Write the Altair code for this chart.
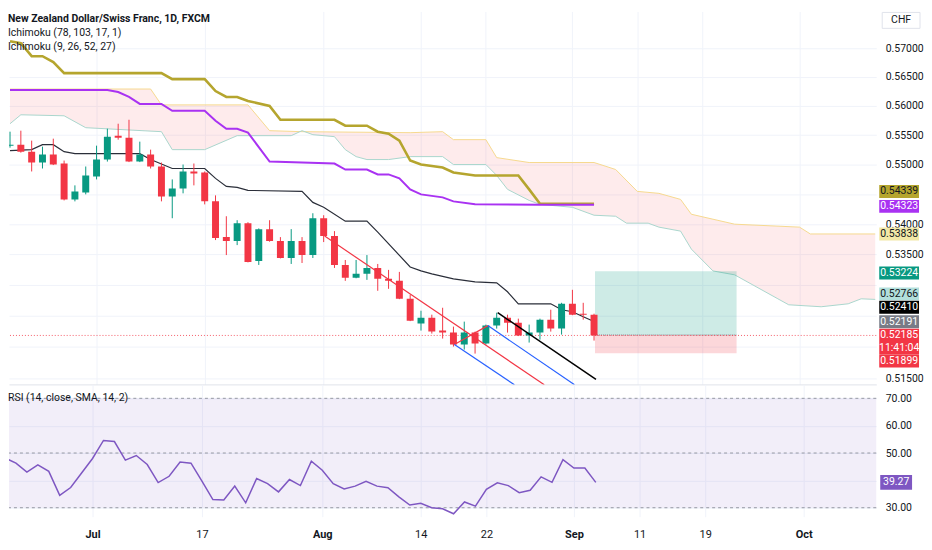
import json
import altair as alt
import pandas as pd

FONT = "Roboto, Liberation Sans, DejaVu Sans, sans-serif"
TXT = "#131722"
UP = "#089981"
DN = "#f23645"

# ---------------- data ----------------
bar_index = list(range(-8, 47))
opens = [0.55319, 0.55336, 0.55217, 0.55033, 0.55167, 0.55016, 0.54413, 0.54530, 0.54798, 0.55083,
         0.55489, 0.55455, 0.55049, 0.55167, 0.54966, 0.54463, 0.54597, 0.54882, 0.54865, 0.54380,
         0.53786, 0.53720, 0.54017, 0.53393, 0.53918, 0.53720, 0.53442, 0.53720, 0.53490, 0.54099,
         0.53803, 0.53328, 0.53117, 0.53182, 0.53279, 0.53101, 0.53068, 0.52776, 0.52375, 0.52471,
         0.52263, 0.52231, 0.52039, 0.52231, 0.52055, 0.52343, 0.52471, 0.52391, 0.52183, 0.52231,
         0.52439, 0.52295, 0.52695, 0.52535, 0.52519]
highs = [0.55557, 0.55574, 0.55404, 0.55302, 0.55438, 0.55066, 0.54648, 0.54966, 0.55319, 0.55608,
         0.55693, 0.55761, 0.55387, 0.55251, 0.55033, 0.54748, 0.54999, 0.55016, 0.54882, 0.54480,
         0.54132, 0.54066, 0.54033, 0.53930, 0.54066, 0.53786, 0.53918, 0.53786, 0.54182, 0.54149,
         0.53885, 0.53409, 0.53409, 0.53490, 0.53344, 0.53247, 0.53214, 0.52841, 0.52583, 0.52519,
         0.52631, 0.52327, 0.52407, 0.52247, 0.52359, 0.52551, 0.52519, 0.52455, 0.52359, 0.52455,
         0.52599, 0.52711, 0.52922, 0.52711, 0.52535]
lows = [0.55285, 0.55200, 0.54882, 0.54932, 0.54990, 0.54396, 0.54380, 0.54497, 0.54748, 0.55049,
        0.55421, 0.55040, 0.55040, 0.54932, 0.54380, 0.54099, 0.54514, 0.54648, 0.54330, 0.53737,
        0.53490, 0.53654, 0.53370, 0.53328, 0.53710, 0.53435, 0.53344, 0.53360, 0.53442, 0.53704,
        0.53279, 0.53068, 0.53110, 0.53084, 0.52906, 0.52938, 0.52770, 0.52415, 0.52263, 0.52215,
        0.52135, 0.52007, 0.51959, 0.51895, 0.52039, 0.52295, 0.52231, 0.52175, 0.52071, 0.52119,
        0.52247, 0.52199, 0.52511, 0.52439, 0.52103]
closes = [0.55336, 0.55217, 0.55033, 0.55167, 0.54999, 0.54413, 0.54547, 0.54815, 0.55083, 0.55472,
          0.55455, 0.55049, 0.55167, 0.54966, 0.54463, 0.54597, 0.54882, 0.54848, 0.54380, 0.53770,
          0.53720, 0.54017, 0.53377, 0.53918, 0.53720, 0.53442, 0.53720, 0.53490, 0.54099, 0.53803,
          0.53328, 0.53117, 0.53182, 0.53279, 0.53101, 0.53068, 0.52776, 0.52423, 0.52471, 0.52247,
          0.52231, 0.52039, 0.52231, 0.52055, 0.52343, 0.52471, 0.52391, 0.52183, 0.52231, 0.52439,
          0.52295, 0.52695, 0.52519, 0.52519, 0.52185]
rsi_values = [48.2, 46.3, 43.0, 45.7, 43.3, 34.5, 37.4, 42.7, 48.0, 54.6,
              54.2, 47.4, 49.1, 45.8, 39.2, 41.5, 46.7, 46.3, 39.7, 33.0,
              32.8, 37.9, 31.8, 40.7, 38.8, 35.8, 40.3, 38.1, 47.0, 43.7,
              38.8, 36.9, 37.9, 39.7, 37.9, 37.3, 34.0, 31.0, 31.6, 30.0,
              29.6, 27.8, 32.1, 30.6, 36.7, 39.1, 38.1, 35.5, 36.4, 41.3,
              39.3, 47.6, 44.5, 44.5, 39.27]

# Ichimoku (78, 103, 17, 1)
olive_i = [-8, -7, -6, -5, -4, -3, 6, 7, 10, 11, 12, 13, 14, 16, 17, 22, 23, 25, 26, 27, 28, 29, 30, 32, 33, 35, 39, 40, 41, 46]
olive_p = [0.57122, 0.57087, 0.56861, 0.56861, 0.56757, 0.56566, 0.56566, 0.56462, 0.56462, 0.56255,
           0.56153, 0.56153, 0.56084, 0.55999, 0.55761, 0.55761, 0.55659, 0.55659, 0.55557, 0.55523,
           0.55404, 0.55066, 0.54999, 0.54949, 0.54865, 0.54815, 0.54815, 0.54581, 0.54339, 0.54339]
purple_i = [-8, 1, 2, 3, 4, 6, 7, 10, 11, 12, 13, 14, 16, 22, 23, 25, 26, 27, 28, 29, 30, 32, 33, 35, 41, 46]
purple_p = [0.56273, 0.56273, 0.56238, 0.56153, 0.56033, 0.56033, 0.55914, 0.55914, 0.55744, 0.55608,
            0.55608, 0.55540, 0.55049, 0.55016, 0.54915, 0.54915, 0.54832, 0.54832, 0.54765, 0.54581,
            0.54497, 0.54447, 0.54380, 0.54330, 0.54323, 0.54323]
span_up_i = [-8, 5, 6, 14, 16, 19, 29, 32, 33, 36, 37, 40, 46, 48, 50, 52, 54, 55, 59, 65, 66, 72]
span_up_p = [0.56290, 0.56290, 0.56016, 0.56016, 0.55574, 0.55557, 0.55540, 0.55557, 0.55421, 0.55421,
             0.55116, 0.55033, 0.55033, 0.54915, 0.54547, 0.54514, 0.54413, 0.54165, 0.54000, 0.53951,
             0.53838, 0.53838]
span_lo_i = [-8, -7, -3, -1, 6, 7, 10, 13, 18, 19, 20, 22, 23, 24, 25, 27, 29, 32, 33, 36, 37, 38, 40,
             41, 44, 46, 48, 49, 51, 52, 54, 55, 57, 59, 63, 64, 67, 69.5, 70.7, 72]
span_lo_p = [0.55693, 0.55846, 0.55829, 0.55625, 0.55557, 0.55251, 0.55251, 0.55489, 0.55489, 0.55574,
             0.55506, 0.55472, 0.55251, 0.55133, 0.55083, 0.55083, 0.55133, 0.55133, 0.54999, 0.54999,
             0.54815, 0.54581, 0.54396, 0.54330, 0.54281, 0.54149, 0.54132, 0.54017, 0.54017, 0.53951,
             0.53885, 0.53588, 0.53230, 0.53166, 0.52776, 0.52679, 0.52647, 0.52695, 0.52776, 0.52766]
# Ichimoku (9, 26, 52, 27) base line
kijun_i = [-8, -6, -5, -4, -3, -2, 4, 5, 7, 10, 11, 12, 13, 14, 19, 20, 21, 23, 25, 26, 29, 30, 31, 33,
           35, 37, 38, 39, 42, 43, 44, 45, 46]
kijun_p = [0.55234, 0.55251, 0.55336, 0.55336, 0.55217, 0.55183, 0.55183, 0.55083, 0.54932, 0.54932,
           0.54765, 0.54631, 0.54614, 0.54564, 0.54547, 0.54363, 0.54281, 0.54050, 0.54050, 0.53869,
           0.53295, 0.53230, 0.53182, 0.53101, 0.53052, 0.53036, 0.52890, 0.52695, 0.52695, 0.52599,
           0.52567, 0.52487, 0.52410]

# drawings: pitchfork (median red, prongs blue, handle B-C red) and a black trend line
pf_a = (21.09, 0.53803)
pf_b = (33.09, 0.52039)
pf_c = (36.18, 0.52343)
pf_median_end = (41.4, 0.51400)
pf_b_end = (38.64, 0.51400)
pf_c_end = (44.2, 0.51400)
trend_start = (37.09, 0.52551)
trend_end = (46.18, 0.51485)

# long position tool
pos_x = [46.09, 59.18]
pos_entry = 0.52191
pos_target = 0.53224
pos_stop = 0.51899
last_price = 0.52185
countdown = "11:41:04"

# price-scale tags
tag_price = [0.54339, 0.54323, 0.53838, 0.53224, 0.52766, 0.52410, 0.52191, 0.51899]
tag_bg = ["#b5a52e", "#a932f2", "#f2e8a6", "#089981", "#b2dfdb", "#000000", "#787b86", "#f23645"]
tag_fg = [TXT, "#ffffff", TXT, "#ffffff", TXT, "#ffffff", "#ffffff", "#ffffff"]
tag_dy = [-12.4, 1.6, 0, 1.7, -5.6, -14.2, -13.4, 7.7]

tick_idx = [0, 10, 21, 30, 36, 44, 50, 56, 65]
tick_lbl = ["Jul", "17", "Aug", "14", "22", "Sep", "11", "19", "Oct"]
month_idx = [0, 21, 44, 65]
price_ticks = [0.515, 0.52, 0.525, 0.53, 0.535, 0.54, 0.545, 0.55, 0.555, 0.56, 0.565, 0.57]
price_ticks_covered = ["0.54500", "0.53000", "0.52500", "0.52000"]
rsi_ticks = [30, 40, 50, 60, 70]
rsi_ticks_covered = ["40.00"]
rsi_levels = [70, 50, 30]

# ---------------- layout ----------------
W, H1, H2 = 872, 375, 133
X_DOMAIN = [-7.636, 71.636]
P_DOMAIN = [0.514059, 0.576482]
R_DOMAIN = [26.73, 75.09]
TAG_X = 895
TAG_W = 40
GRID = "#f0f3fa"
AX_FS = 10.5

xsc = alt.Scale(domain=X_DOMAIN, nice=False, zero=False)
ysc = alt.Scale(type="log", domain=P_DOMAIN, nice=False)
rsc = alt.Scale(domain=R_DOMAIN, nice=False, zero=False)

label_expr = f"{json.dumps(tick_lbl)}[indexof({json.dumps(tick_idx)}, datum.value)]"
xax_top = alt.Axis(values=tick_idx, labels=False, ticks=False, domain=True, domainColor="#e0e3eb",
                   grid=True, gridColor=GRID, title=None)
xax_bot = alt.Axis(values=tick_idx, labelExpr=label_expr, ticks=False, domain=False, grid=True,
                   gridColor=GRID, title=None, labelFont=FONT, labelFontSize=11, labelColor=TXT,
                   labelPadding=12, labelAngle=0,
                   labelFontWeight={"condition": {"test": f"indexof({json.dumps(month_idx)}, datum.value) >= 0",
                                                  "value": "bold"}, "value": "normal"})
yax = alt.Axis(orient="right", values=price_ticks, format=".5f", grid=True, gridColor=GRID, ticks=False,
               domain=False, labelPadding=9, labelFont=FONT, labelFontSize=AX_FS, labelColor=TXT, title=None,
               labelOverlap=False,
               labelExpr=f"indexof({json.dumps(price_ticks_covered)}, datum.label) >= 0 ? '' : datum.label")
rax = alt.Axis(orient="right", values=rsi_ticks, format=".2f", grid=True, gridColor=GRID, ticks=False,
               domain=False, labelPadding=9, labelFont=FONT, labelFontSize=AX_FS, labelColor=TXT, title=None,
               labelOverlap=False,
               labelExpr=f"indexof({json.dumps(rsi_ticks_covered)}, datum.label) >= 0 ? '' : datum.label")


def X(f, ax=xax_top):
    return alt.X(f, type="quantitative", scale=xsc, axis=ax)


def Y(f):
    return alt.Y(f, type="quantitative", scale=ysc, axis=yax)


def box_shape(w, h):
    return f"M-1,-{h / w:.4f}H1V{h / w:.4f}H-1Z"


candles = pd.DataFrame({"i": bar_index, "o": opens, "h": highs, "l": lows, "c": closes})
candles["dir"] = ["up" if c >= o else "down" for o, c in zip(opens, closes)]
dir_color = alt.Color("dir:N", scale=alt.Scale(domain=["up", "down"], range=[UP, DN]), legend=None)

# cloud polygon: upper span forward, lower span backward
cloud = pd.DataFrame({
    "i": span_up_i + span_lo_i[::-1],
    "p": span_up_p + span_lo_p[::-1],
})
cloud["k"] = range(len(cloud))

layers = []
layers.append(alt.Chart(cloud).mark_line(filled=True, fill=DN, fillOpacity=0.1, strokeOpacity=0, clip=True)
              .encode(x=X("i"), y=Y("p"), order=alt.Order("k:Q")))
layers.append(alt.Chart(pd.DataFrame({"i": span_up_i, "p": span_up_p}))
              .mark_line(color="#f6d98e", strokeWidth=1, clip=True).encode(x=X("i"), y=Y("p")))
layers.append(alt.Chart(pd.DataFrame({"i": span_lo_i, "p": span_lo_p}))
              .mark_line(color="#a9d6cd", strokeWidth=1, clip=True).encode(x=X("i"), y=Y("p")))

pos_tp = pd.DataFrame({"x0": [pos_x[0]], "x1": [pos_x[1]], "top": [pos_target], "bot": [pos_entry]})
pos_sl = pd.DataFrame({"x0": [pos_x[0]], "x1": [pos_x[1]], "top": [pos_entry], "bot": [pos_stop]})
layers.append(alt.Chart(pos_tp).mark_rect(color=UP, opacity=0.2)
              .encode(x=X("x0"), x2="x1", y=Y("top"), y2="bot"))
layers.append(alt.Chart(pos_sl).mark_rect(color=DN, opacity=0.2)
              .encode(x=X("x0"), x2="x1", y=Y("top"), y2="bot"))
layers.append(alt.Chart(pd.DataFrame({"x0": [pos_x[0]], "x1": [pos_x[1]], "p": [pos_entry]}))
              .mark_rule(color="#787b86", strokeWidth=1, strokeDash=[1, 1]).encode(x=X("x0"), x2="x1", y=Y("p")))
layers.append(alt.Chart(pd.DataFrame({"p": [last_price]}))
              .mark_rule(color=DN, strokeWidth=1, strokeDash=[1, 2], opacity=0.8).encode(y=Y("p")))

layers.append(alt.Chart(pd.DataFrame({"i": olive_i, "p": olive_p}))
              .mark_line(color="#b5a52e", strokeWidth=2.6, clip=True).encode(x=X("i"), y=Y("p")))
layers.append(alt.Chart(pd.DataFrame({"i": purple_i, "p": purple_p}))
              .mark_line(color="#a932f2", strokeWidth=2, clip=True).encode(x=X("i"), y=Y("p")))
layers.append(alt.Chart(pd.DataFrame({"i": kijun_i, "p": kijun_p}))
              .mark_line(color="#2a2e39", strokeWidth=1.2, clip=True).encode(x=X("i"), y=Y("p")))

layers.append(alt.Chart(candles).mark_rule(strokeWidth=1, clip=True)
              .encode(x=X("i"), y=Y("l"), y2="h", color=dir_color))
layers.append(alt.Chart(candles).mark_bar(size=7, clip=True)
              .encode(x=X("i"), y=Y("o"), y2="c", color=dir_color))


def seg(p0, p1, color, width=1.2):
    d = pd.DataFrame({"x0": [p0[0]], "p0": [p0[1]], "x1": [p1[0]], "p1": [p1[1]]})
    return (alt.Chart(d).mark_rule(color=color, strokeWidth=width, clip=True)
            .encode(x=X("x0"), x2="x1", y=Y("p0"), y2="p1"))


layers.append(seg(pf_a, pf_median_end, DN))
layers.append(seg(pf_b, pf_c, DN))
layers.append(seg(pf_b, pf_b_end, "#2962ff"))
layers.append(seg(pf_c, pf_c_end, "#2962ff"))
layers.append(seg(trend_start, trend_end, "#000000", 1.5))

# price-scale tags
for p, bg, fg, dy in zip(tag_price, tag_bg, tag_fg, tag_dy):
    d = pd.DataFrame({"p": [p], "t": [f"{p:.5f}"]})
    layers.append(alt.Chart(d).mark_point(shape=box_shape(TAG_W, 13), size=TAG_W * TAG_W, filled=True, color=bg,
                                          opacity=1, yOffset=dy)
                  .encode(x=alt.value(TAG_X), y=Y("p")))
    layers.append(alt.Chart(d).mark_text(font=FONT, fontSize=AX_FS, color=fg, align="center", baseline="middle",
                                         yOffset=dy)
                  .encode(x=alt.value(TAG_X), y=Y("p"), text="t:N"))
d_last = pd.DataFrame({"p": [last_price], "t": [f"{last_price:.5f}"], "cd": [countdown]})
layers.append(alt.Chart(d_last).mark_point(shape=box_shape(TAG_W, 26), size=TAG_W * TAG_W, filled=True, color=DN,
                                           opacity=1, yOffset=6.2)
              .encode(x=alt.value(TAG_X), y=Y("p")))
layers.append(alt.Chart(d_last).mark_text(font=FONT, fontSize=AX_FS, color="#ffffff", baseline="middle", yOffset=0)
              .encode(x=alt.value(TAG_X), y=Y("p"), text="t:N"))
layers.append(alt.Chart(d_last).mark_text(font=FONT, fontSize=AX_FS, color="#ffffff", baseline="middle", yOffset=13)
              .encode(x=alt.value(TAG_X), y=Y("p"), text="cd:N"))

one = pd.DataFrame({"a": [0]})
layers.append(alt.Chart(one).mark_point(shape=box_shape(38, 16), size=38 * 38, filled=True, fill="#ffffff",
                                        stroke="#e0e3eb", strokeWidth=1, opacity=1)
              .encode(x=alt.value(TAG_X + 2), y=alt.value(9)))
layers.append(alt.Chart(one).mark_text(font=FONT, fontSize=AX_FS, color=TXT, baseline="middle")
              .encode(x=alt.value(TAG_X + 2), y=alt.value(9), text=alt.value("CHF")))
legend_lines = ["New Zealand Dollar/Swiss Franc, 1D, FXCM", "Ichimoku (78, 103, 17, 1)", "Ichimoku (9, 26, 52, 27)"]
for k, line in enumerate(legend_lines):
    layers.append(alt.Chart(one).mark_text(font=FONT, fontSize=10.5, color=TXT, align="left",
                                           baseline="middle", fontWeight="bold" if k == 0 else "normal")
                  .encode(x=alt.value(-1), y=alt.value(8 + 14 * k), text=alt.value(line)))

price = alt.layer(*layers).properties(width=W, height=H1)

# ---------------- RSI pane ----------------
rsi_df = pd.DataFrame({"i": bar_index, "r": rsi_values})


def RY(f):
    return alt.Y(f, type="quantitative", scale=rsc, axis=rax)


rl = []
rl.append(alt.Chart(pd.DataFrame({"top": [rsi_levels[0]], "bot": [rsi_levels[-1]]}))
          .mark_rect(color="#7e57c2", opacity=0.1)
          .encode(x=alt.value(0), x2=alt.value(W), y=RY("top"), y2="bot"))
rl.append(alt.Chart(pd.DataFrame({"lvl": rsi_levels}))
          .mark_rule(color="#9598a1", strokeDash=[3, 3], strokeWidth=1).encode(y=RY("lvl")))
rl.append(alt.Chart(rsi_df).mark_line(color="#7e57c2", strokeWidth=1.5, clip=True)
          .encode(x=X("i", xax_bot), y=RY("r")))
last_rsi = pd.DataFrame({"r": [rsi_values[-1]], "t": [f"{rsi_values[-1]:.2f}"]})
rl.append(alt.Chart(last_rsi).mark_point(shape=box_shape(32, 15), size=32 * 32, filled=True, color="#7e57c2",
                                         opacity=1)
          .encode(x=alt.value(892), y=RY("r")))
rl.append(alt.Chart(last_rsi).mark_text(font=FONT, fontSize=AX_FS, color="#ffffff", baseline="middle")
          .encode(x=alt.value(892), y=RY("r"), text="t:N"))
rl.append(alt.Chart(one).mark_text(font=FONT, fontSize=10.5, color=TXT, align="left", baseline="middle")
          .encode(x=alt.value(-1), y=alt.value(14), text=alt.value("RSI (14, close, SMA, 14, 2)")))
rsi = alt.layer(*rl).properties(width=W, height=H2)

chart = (alt.vconcat(price, rsi, spacing=0)
         .properties(padding={"left": 0, "top": 0, "right": 0, "bottom": 0}, background="#ffffff")
         .configure_view(stroke=None))

chart.save("out.html", embed_options={"renderer": "svg", "actions": False})
